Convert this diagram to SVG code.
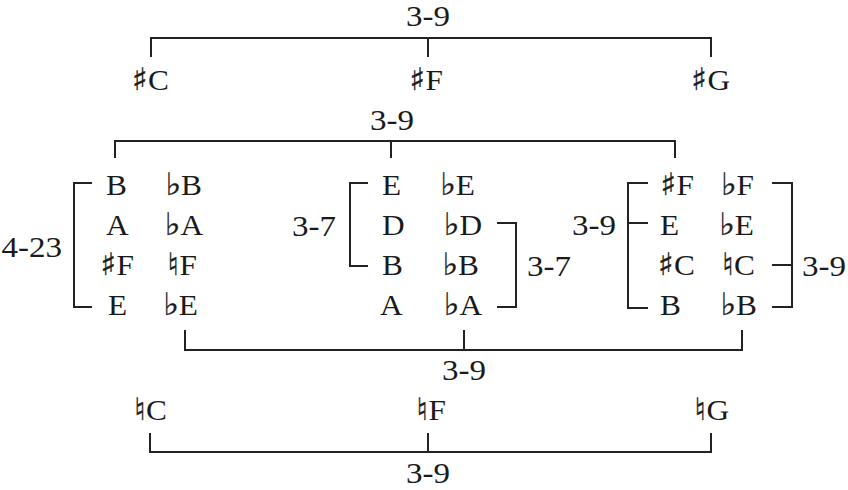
<svg xmlns="http://www.w3.org/2000/svg" width="848" height="490" viewBox="0 0 848 490">
<style>
.bg{fill:#ffffff}
.ln{fill:none;stroke:#222222;stroke-width:2}
.n{font-family:"Liberation Serif","Times New Roman",serif;font-size:29px;fill:#1a1a1a}
.lb{font-family:"Liberation Serif","Times New Roman",serif;font-size:30px;fill:#1a1a1a}
.e{text-anchor:end}
.m{text-anchor:middle}
.acc{font-family:"DejaVu Sans",sans-serif;font-size:31px;stroke:#1a1a1a;stroke-width:0.35}
</style>
<rect class="bg" x="0" y="0" width="848" height="490"/>
<g id="connectors">
<path class="ln" d="M151,57 V38 H711 V57 M428,38 V57"/>
<path class="ln" d="M115,158 V141 H675 V158 M391,141 V158"/>
<path class="ln" d="M92,183 H74 V307 H92"/>
<path class="ln" d="M368,183 H350 V266 H368"/>
<path class="ln" d="M497,223 H516 V307 H497"/>
<path class="ln" d="M648,183 H628 V308 H648 M628,223 H648"/>
<path class="ln" d="M772,183 H792 V307 H772 M772,265 H792"/>
<path class="ln" d="M185,330 V350 H742 V330 M464,330 V350"/>
<path class="ln" d="M150,433 V452 H711 V433 M428,433 V452"/>
</g>
<g id="labels">
<text class="lb m" transform="translate(428,26) scale(1.1,1)">3-9</text>
<text class="lb m" transform="translate(392,130) scale(1.1,1)">3-9</text>
<text class="lb e" transform="translate(62,257) scale(1.1,1)">4-23</text>
<text class="lb e" transform="translate(336,236) scale(1.1,1)">3-7</text>
<text class="lb" transform="translate(527,276) scale(1.1,1)">3-7</text>
<text class="lb e" transform="translate(616,235) scale(1.1,1)">3-9</text>
<text class="lb" transform="translate(802,276) scale(1.1,1)">3-9</text>
<text class="lb m" transform="translate(464,380) scale(1.1,1)">3-9</text>
<text class="lb m" transform="translate(428,483) scale(1.1,1)">3-9</text>
</g>
<g id="top-notes">
<g id="n-top-Cs"><text class="n e" transform="translate(169,90) scale(1.08,1)"><tspan class="acc">♯</tspan>C</text></g>
<g id="n-top-Fs"><text class="n e" transform="translate(443,90) scale(1.08,1)"><tspan class="acc">♯</tspan>F</text></g>
<g id="n-top-Gs"><text class="n e" transform="translate(730,90) scale(1.08,1)"><tspan class="acc">♯</tspan>G</text></g>
</g>
<g id="left-group">
<g id="n-l1"><text class="n" transform="translate(106,195) scale(1.08,1)">B</text></g>
<g id="n-l2"><text class="n" transform="translate(106,235) scale(1.08,1)">A</text></g>
<g id="n-l3"><text class="n e" transform="translate(134,275) scale(1.08,1)"><tspan class="acc">♯</tspan>F</text></g>
<g id="n-l4"><text class="n" transform="translate(108,315) scale(1.08,1)">E</text></g>
<g id="n-l5"><text class="n e" transform="translate(202,195) scale(1.08,1)"><tspan class="acc">♭</tspan>B</text></g>
<g id="n-l6"><text class="n e" transform="translate(203,235) scale(1.08,1)"><tspan class="acc">♭</tspan>A</text></g>
<g id="n-l7"><text class="n e" transform="translate(197,275) scale(1.08,1)"><tspan class="acc">♮</tspan>F</text></g>
<g id="n-l8"><text class="n e" transform="translate(198,315) scale(1.08,1)"><tspan class="acc">♭</tspan>E</text></g>
</g>
<g id="middle-group">
<g id="n-m1"><text class="n" transform="translate(382,195) scale(1.08,1)">E</text></g>
<g id="n-m2"><text class="n" transform="translate(382,235) scale(1.08,1)">D</text></g>
<g id="n-m3"><text class="n" transform="translate(382,275) scale(1.08,1)">B</text></g>
<g id="n-m4"><text class="n" transform="translate(380,315) scale(1.08,1)">A</text></g>
<g id="n-m5"><text class="n e" transform="translate(475,195) scale(1.08,1)"><tspan class="acc">♭</tspan>E</text></g>
<g id="n-m6"><text class="n e" transform="translate(482,235) scale(1.08,1)"><tspan class="acc">♭</tspan>D</text></g>
<g id="n-m7"><text class="n e" transform="translate(479,275) scale(1.08,1)"><tspan class="acc">♭</tspan>B</text></g>
<g id="n-m8"><text class="n e" transform="translate(482,315) scale(1.08,1)"><tspan class="acc">♭</tspan>A</text></g>
</g>
<g id="right-group">
<g id="n-r1"><text class="n e" transform="translate(694,195) scale(1.08,1)"><tspan class="acc">♯</tspan>F</text></g>
<g id="n-r2"><text class="n" transform="translate(660,235) scale(1.08,1)">E</text></g>
<g id="n-r3"><text class="n e" transform="translate(695,275) scale(1.08,1)"><tspan class="acc">♯</tspan>C</text></g>
<g id="n-r4"><text class="n" transform="translate(660,315) scale(1.08,1)">B</text></g>
<g id="n-r5"><text class="n e" transform="translate(754,195) scale(1.08,1)"><tspan class="acc">♭</tspan>F</text></g>
<g id="n-r6"><text class="n e" transform="translate(754,235) scale(1.08,1)"><tspan class="acc">♭</tspan>E</text></g>
<g id="n-r7"><text class="n e" transform="translate(755,275) scale(1.08,1)"><tspan class="acc">♮</tspan>C</text></g>
<g id="n-r8"><text class="n e" transform="translate(757,315) scale(1.08,1)"><tspan class="acc">♭</tspan>B</text></g>
</g>
<g id="bottom-notes">
<g id="n-bot-C"><text class="n e" transform="translate(167,420) scale(1.08,1)"><tspan class="acc">♮</tspan>C</text></g>
<g id="n-bot-F"><text class="n e" transform="translate(446,420) scale(1.08,1)"><tspan class="acc">♮</tspan>F</text></g>
<g id="n-bot-G"><text class="n e" transform="translate(729,420) scale(1.08,1)"><tspan class="acc">♮</tspan>G</text></g>
</g>
</svg>
